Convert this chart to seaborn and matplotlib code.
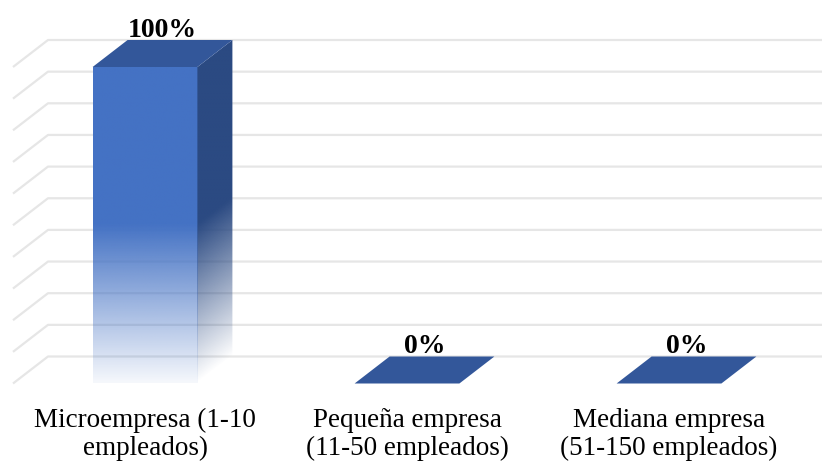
import numpy as np
import matplotlib
matplotlib.use('Agg')
import matplotlib.pyplot as plt
import seaborn as sns
import pandas as pd
from matplotlib.patches import Polygon
from matplotlib.colors import to_rgb

# ---- data ----
categories = ["Microempresa (1-10\nempleados)",
              "Pequeña empresa\n(11-50 empleados)",
              "Mediana empresa\n(51-150 empleados)"]
values = [100, 0, 0]
value_labels = ["100%", "0%", "0%"]
grid_values = list(range(0, 101, 10))

sns.set_theme(style='white')
plt.rcParams['font.family'] = ['Liberation Serif', 'DejaVu Serif']

W, H = 822, 462
fig = plt.figure(figsize=(W / 100, H / 100), dpi=100)
ax_bottom_px = 400
ax = fig.add_axes([0, (H - ax_bottom_px) / H, 1, ax_bottom_px / H])

# pixel geometry of the front plane
px_per_cat = 262.0
x0_px = 145.0
zero_px = 383.5
px_per_unit = 3.165
DX = 35.0 / px_per_cat          # depth offset (data units)
DY = 27.0 / px_per_unit

FRONT = '#4472C4'
SIDE = '#2B4A82'
TOP = '#33579A'
GRID = '#e6e6e6'

df = pd.DataFrame({'cat': categories, 'val': values})
sns.barplot(data=df, x='cat', y='val', color=FRONT, width=0.4, ax=ax,
            zorder=3, saturation=1)

xmin = -x0_px / px_per_cat
xmax = (W - x0_px) / px_per_cat
ymin = (zero_px - ax_bottom_px) / px_per_unit
ymax = zero_px / px_per_unit

# gridlines: side diagonal + back wall
xl = (13.0 - x0_px) / px_per_cat
for v in grid_values:
    ax.plot([xl, xl + DX, xmax], [v, v + DY, v + DY], color=GRID, lw=1.6,
            zorder=0, solid_capstyle='butt')


def alpha_of(t):
    return np.clip(0.05 + 0.95 * t / 0.5, 0.05, 1.0)


for p, lab in zip(ax.patches, value_labels):
    x, w, h = p.get_x(), p.get_width(), p.get_height()
    p.set_facecolor('none')
    p.set_edgecolor('none')
    if h > 0:
        # front face gradient
        n = 400
        t = np.linspace(1, 0, n)
        img = np.zeros((n, 1, 4))
        img[..., :3] = to_rgb(FRONT)
        img[:, 0, 3] = alpha_of(t)
        im = ax.imshow(img, extent=[x, x + w, 0, h], aspect='auto',
                       origin='upper', zorder=3, interpolation='bilinear')
        im.set_clip_path(p)
        # side face gradient
        side = Polygon([(x + w, 0), (x + w, h), (x + w + DX, h + DY),
                        (x + w + DX, DY)], closed=True, facecolor='none',
                       edgecolor='none', zorder=3)
        ax.add_patch(side)
        nx, ny = 60, 400
        X = np.linspace(x + w, x + w + DX, nx)
        Y = np.linspace(h + DY, 0, ny)
        XX, YY = np.meshgrid(X, Y)
        tt = (YY - DY * (XX - (x + w)) / DX) / h
        simg = np.zeros((ny, nx, 4))
        simg[..., :3] = to_rgb(SIDE)
        simg[..., 3] = np.clip(0.0 + 1.0 * tt / 0.5, 0.0, 1.0)
        sim = ax.imshow(simg, extent=[x + w, x + w + DX, 0, h + DY],
                        aspect='auto', origin='upper', zorder=3,
                        interpolation='bilinear')
        sim.set_clip_path(side)
    # top face
    top = Polygon([(x, h), (x + w, h), (x + w + DX, h + DY), (x + DX, h + DY)],
                  closed=True, facecolor=TOP, edgecolor='none', zorder=4)
    ax.add_patch(top)
    ax.annotate(lab, xy=(x + w / 2 + DX / 2, h + DY), xytext=(0, 2.2),
                textcoords='offset points', ha='center', va='baseline',
                fontsize=20, fontweight='bold', color='black', zorder=5)

ax.set_xlim(xmin, xmax)
ax.set_ylim(ymin, ymax)
ax.set_yticks([])
ax.set_xlabel('')
ax.set_ylabel('')
for s in ax.spines.values():
    s.set_visible(False)
ax.tick_params(axis='x', length=0, pad=6, labelsize=19.5, colors='black')
for tl in ax.get_xticklabels():
    tl.set_linespacing(1.12)

fig.savefig('out.png', dpi=100)
